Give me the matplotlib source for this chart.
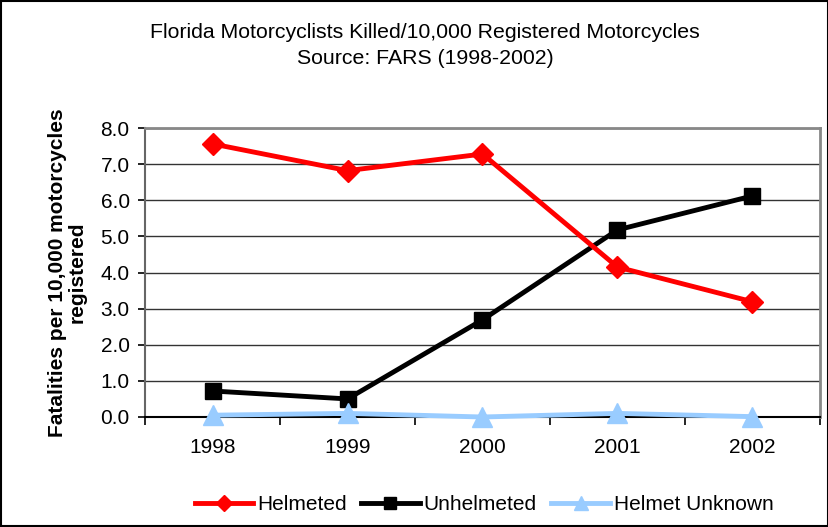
import matplotlib
matplotlib.use("Agg")
import matplotlib.pyplot as plt
from matplotlib.patches import Rectangle

plt.rcParams['font.family'] = ['Liberation Sans', 'DejaVu Sans']

years = ['1998', '1999', '2000', '2001', '2002']
helmeted = [7.56, 6.82, 7.28, 4.15, 3.19]
unhelmeted = [0.72, 0.50, 2.69, 5.18, 6.12]
unknown = [0.05, 0.10, 0.00, 0.10, 0.01]
yticks = [0.0, 1.0, 2.0, 3.0, 4.0, 5.0, 6.0, 7.0, 8.0]

fig = plt.figure(figsize=(8.29, 5.27), dpi=100)
ax = fig.add_axes([145/829, 1-417/527, (820-145)/829, (417-128)/527])

x = list(range(len(years)))
ax.plot(x, helmeted, color='#FF0000', lw=3.5, marker='D', ms=11, label='Helmeted', zorder=4)
ax.plot(x, unhelmeted, color='#000000', lw=3.5, marker='s', ms=12, label='Unhelmeted', zorder=3)
ax.plot(x, unknown, color='#99CCFF', lw=3.5, marker='^', ms=14, label='Helmet Unknown', zorder=5, clip_on=False)

ax.set_xlim(-0.5, 4.5)
ax.set_ylim(0, 8)
ax.set_yticks(yticks)
ax.set_yticklabels([f'{v:.1f}' for v in yticks], fontsize=15)
ax.set_xticks(x)
ax.set_xticklabels(years, fontsize=15)
ax.set_xticks([i - 0.5 for i in range(len(years) + 1)], minor=True)
ax.tick_params(axis='x', which='major', length=0, pad=15)
ax.tick_params(axis='x', which='minor', length=6, width=1.2, color='black', direction='out')
ax.tick_params(axis='y', length=5, width=1.2, direction='out', pad=6)

ax.yaxis.grid(True, color='#333333', lw=1)
ax.set_axisbelow(True)
for s in ['top', 'right']:
    ax.spines[s].set_color('#888888')
    ax.spines[s].set_linewidth(2)
ax.spines['left'].set_color('#666666')
ax.spines['left'].set_linewidth(1.5)
ax.spines['bottom'].set_color('black')
ax.spines['bottom'].set_linewidth(1.5)

ax.set_ylabel('Fatalities per 10,000 motorcycles\nregistered', fontsize=15, fontweight='bold', labelpad=10, linespacing=1.05)

fig.text(0.513, 1-32/527, 'Florida Motorcyclists Killed/10,000 Registered Motorcycles', ha='center', va='center', fontsize=15.3)
fig.text(0.513, 1-59/527, 'Source: FARS (1998-2002)', ha='center', va='center', fontsize=15.3)

leg = fig.legend(loc='center', bbox_to_anchor=(0.584, 1-505/527), ncol=3, frameon=False, fontsize=15,
                 handlelength=2.8, handletextpad=0.2, columnspacing=0.7, markerscale=0.75)

fig.patches.append(Rectangle((0.001, 0.001), 0.998, 0.997, transform=fig.transFigure, fill=False,
                             edgecolor='black', lw=1.5))

fig.savefig('out.png', dpi=100)
